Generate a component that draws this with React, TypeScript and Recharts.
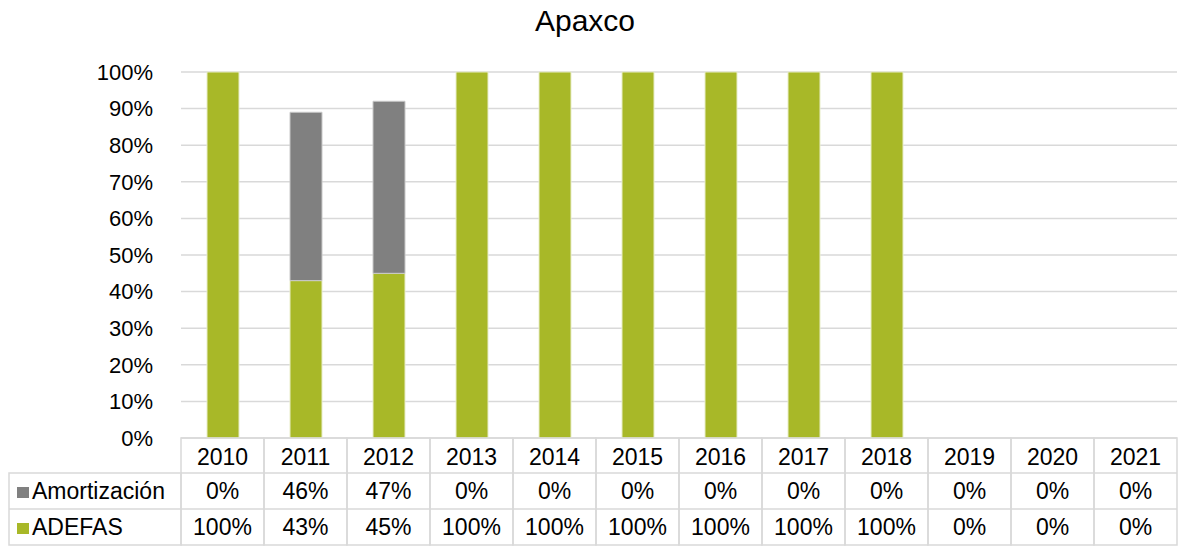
import React from 'react';
import { BarChart, Bar, XAxis, YAxis, CartesianGrid } from 'recharts';

const years = ['2010', '2011', '2012', '2013', '2014', '2015', '2016', '2017', '2018', '2019', '2020', '2021'];
const adefas = [100, 43, 45, 100, 100, 100, 100, 100, 100, 0, 0, 0];
const amortizacion = [0, 46, 47, 0, 0, 0, 0, 0, 0, 0, 0, 0];
const yTicks = [0, 10, 20, 30, 40, 50, 60, 70, 80, 90, 100];

const W = 1180;
const H = 546;
const LEFT = 181;
const RIGHT = 3;
const TOP = 72;
const TABLE_H = 108;
const COL_W = (W - LEFT - RIGHT) / years.length;
const FONT = '"Liberation Sans", Arial, sans-serif';
const GREEN = '#A8B828';
const GRAY = '#808080';
const BORDER = '#d9d9d9';

const data = years.map((y, i) => ({ year: y, adefas: adefas[i], amortizacion: amortizacion[i] }));

const rows = [
  { label: 'Amortización', color: GRAY, values: amortizacion },
  { label: 'ADEFAS', color: GREEN, values: adefas },
];

// the data table is drawn by the category axis ticks
const TableTick = (props: any) => {
  const { x, y, payload, index } = props;
  const x0 = x - COL_W / 2;
  const rowH = [35, 36, 36];
  const r1 = y + rowH[0];
  const r2 = r1 + rowH[1];
  const r3 = r2 + rowH[2];
  const text = { fontFamily: FONT, fontSize: 23, fill: '#000', textAnchor: 'middle' as const };
  return (
    <g>
      <rect x={x0} y={y} width={COL_W} height={r3 - y} fill="none" stroke={BORDER} strokeWidth={1.5} />
      <line x1={x0} x2={x0 + COL_W} y1={r1} y2={r1} stroke={BORDER} strokeWidth={1.5} />
      <line x1={x0} x2={x0 + COL_W} y1={r2} y2={r2} stroke={BORDER} strokeWidth={1.5} />
      <text x={x} y={y + 27} {...text}>{payload.value}</text>
      {rows.map((r, k) => (
        <text key={k} x={x} y={(k === 0 ? r1 : r2) + 26} {...text}>{r.values[index]}%</text>
      ))}
      {index === 0 && (
        <g>
          <rect x={9} y={r1} width={x0 - 9} height={r3 - r1} fill="none" stroke={BORDER} strokeWidth={1.5} />
          <line x1={9} x2={x0} y1={r2} y2={r2} stroke={BORDER} strokeWidth={1.5} />
          {rows.map((r, k) => {
            const top = k === 0 ? r1 : r2;
            return (
              <g key={k}>
                <rect x={17} y={top + 14} width={12} height={11} fill={r.color} />
                <text x={32} y={top + 26} fontFamily={FONT} fontSize={23} fill="#000">{r.label}</text>
              </g>
            );
          })}
        </g>
      )}
    </g>
  );
};

export default function App() {
  return (
    <div style={{ position: 'absolute', left: 0, top: 0, width: W, height: H, background: '#fff' }}>
      <BarChart
        width={W}
        height={H}
        data={data}
        margin={{ top: TOP, right: RIGHT, left: 0, bottom: 0 }}
        barSize={32}
      >
        <text x={585} y={31} textAnchor="middle" fontFamily={FONT} fontSize={30} fill="#000">Apaxco</text>
        <CartesianGrid vertical={false} stroke={BORDER} strokeWidth={1.5} />
        <YAxis
          width={LEFT}
          domain={[0, 100]}
          ticks={yTicks}
          tickFormatter={(v) => `${v}%`}
          axisLine={false}
          tickLine={false}
          tickMargin={22}
          tick={{ fill: '#000', fontSize: 22, fontFamily: FONT }}
        />
        <XAxis
          dataKey="year"
          height={TABLE_H}
          axisLine={false}
          tickLine={false}
          tickSize={0}
          tickMargin={0}
          interval={0}
          tick={<TableTick />}
        />
        <Bar dataKey="adefas" stackId="a" fill={GREEN} stroke="#e8edc8" strokeWidth={1} isAnimationActive={false} />
        <Bar dataKey="amortizacion" stackId="a" fill={GRAY} stroke="#c8c8c8" strokeWidth={1} isAnimationActive={false} />
      </BarChart>
    </div>
  );
}
